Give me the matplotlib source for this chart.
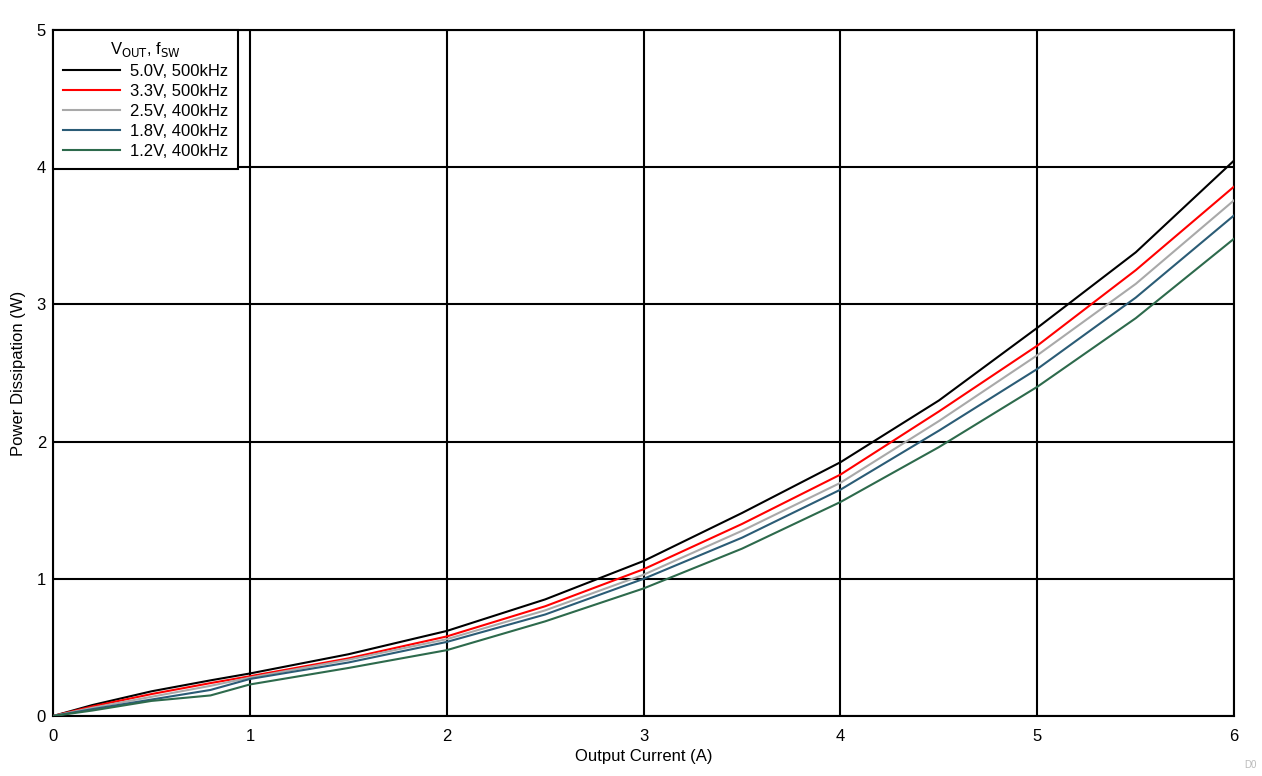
import matplotlib
matplotlib.use("Agg")
import matplotlib.pyplot as plt

plt.rcParams['font.family'] = ['Liberation Sans', 'DejaVu Sans']

current = [0, 0.2, 0.5, 0.8, 1.0, 1.5, 2.0, 2.5, 3.0, 3.5, 4.0, 4.5, 5.0, 5.5, 6.0]
p_5v0 = [0, 0.08, 0.18, 0.26, 0.31, 0.45, 0.62, 0.85, 1.13, 1.48, 1.85, 2.30, 2.83, 3.38, 4.05]
p_3v3 = [0, 0.07, 0.16, 0.24, 0.29, 0.42, 0.58, 0.80, 1.07, 1.40, 1.76, 2.22, 2.70, 3.25, 3.86]
p_2v5 = [0, 0.06, 0.14, 0.22, 0.28, 0.41, 0.56, 0.77, 1.03, 1.35, 1.70, 2.15, 2.63, 3.15, 3.76]
p_1v8 = [0, 0.05, 0.12, 0.19, 0.27, 0.39, 0.54, 0.74, 1.00, 1.30, 1.65, 2.08, 2.53, 3.05, 3.65]
p_1v2 = [0, 0.04, 0.11, 0.15, 0.23, 0.35, 0.48, 0.69, 0.93, 1.22, 1.56, 1.96, 2.40, 2.90, 3.48]

labels = ['5.0V, 500kHz', '3.3V, 500kHz', '2.5V, 400kHz', '1.8V, 400kHz', '1.2V, 400kHz']
colors = ['#000000', '#FF0000', '#A9A9A9', '#2B5C76', '#2D6A4C']
series = [p_5v0, p_3v3, p_2v5, p_1v8, p_1v2]

fig = plt.figure(figsize=(12.62, 7.76), dpi=100)
ax = fig.add_axes([0.042, 0.0773, 0.936, 0.884])

for s, c, l in zip(series, colors, labels):
    ax.plot(current, s, color=c, lw=1.5, label=l, zorder=3)

ax.set_xlim(0, 6)
ax.set_ylim(0, 5)
ax.set_xticks(range(0, 7))
ax.set_yticks(range(0, 6))
ax.grid(True, color='black', lw=1.5)
for sp in ax.spines.values():
    sp.set_linewidth(1.5)
    sp.set_color('black')
ax.tick_params(axis='both', length=0, labelsize=12)
ax.tick_params(axis='x', pad=9)
ax.tick_params(axis='y', pad=5)
ax.set_xlabel('Output Current (A)', fontsize=12, labelpad=4)
ax.set_ylabel('Power Dissipation (W)', fontsize=12, labelpad=8)

leg = ax.legend(loc='upper left', title=r'V$_{\mathrm{OUT}}$, f$_{\mathrm{SW}}$', fontsize=12,
                title_fontsize=12, fancybox=False, framealpha=1, edgecolor='black',
                borderaxespad=0, handlelength=3.4, handletextpad=0.6, labelspacing=0.3,
                borderpad=0.6)
leg.get_frame().set_linewidth(1.5)
leg.set_zorder(5)

fig.text(0.9955, 0.008, 'D0', fontsize=7, color='#BBBBBB', ha='right', va='bottom')

fig.savefig('out.png', dpi=100)
